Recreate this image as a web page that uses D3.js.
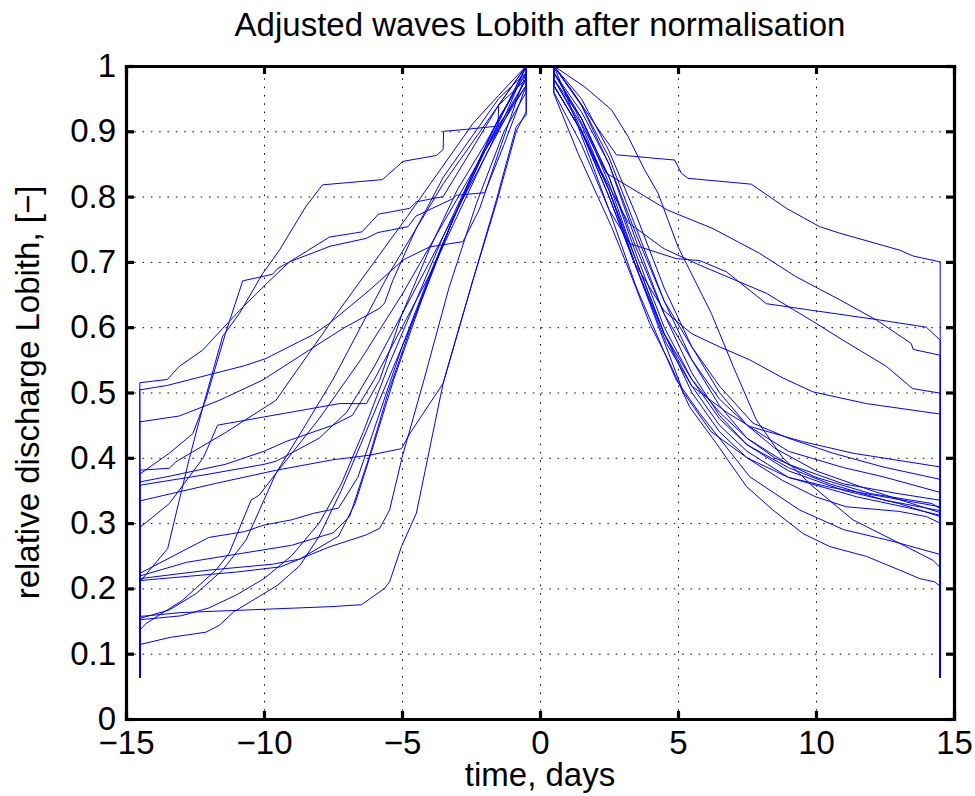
<!DOCTYPE html>
<html>
<head>
<meta charset="utf-8">
<script src="https://cdn.jsdelivr.net/npm/d3@7"></script>
<style>
  body { margin: 0; background: #fff; }
  text { font-family: "Liberation Sans", Arial, Helvetica, sans-serif; fill: #000; }
</style>
</head>
<body>
<div id="chart"></div>
<script>

// chart texts and ticks
var chartTitle = "Adjusted waves Lobith after normalisation"
var xLabel = "time, days"
var yLabel = "relative discharge Lobith, [\u2212]"
var xTicks = [-15, -10, -5, 0, 5, 10, 15]
var yTicks = [0, 0.1, 0.2, 0.3, 0.4, 0.5, 0.6, 0.7, 0.8, 0.9, 1]

// every wave starts and ends at the window edge with this low value
var edgeLevel = 0.063
// flat top of the normalised waves
var peakTop = [[-0.5, 1], [0.5, 1]]

// rising limbs [day, relative discharge]
var risingLimbs = [
  [[-14.5,.515],[-13.5,.52],[-13.07,.54],[-12.22,.565],[-11.5,.598],[-10.9,.625],[-9.9,.667],[-9.08,.70],[-7.6,.724],[-6.3,.736],[-5.87,.745],[-4.78,.754],[-4.5,.77],[-3.15,.797],[-3.03,.802],[-2.0,.806],[-1.3,.88],[-0.5,.97]],
  [[-14.5,.504],[-13.49,.511],[-10.71,.541],[-9.93,.552],[-8.72,.578],[-8.24,.588],[-7.63,.606],[-6.17,.657],[-4.96,.703],[-4.0,.723],[-2.79,.731],[-2.2,.78],[-1.4,.88],[-0.5,.99]],
  [[-14.5,.455],[-13.07,.464],[-11.62,.488],[-10.05,.519],[-8.36,.565],[-7.14,.598],[-5.81,.629],[-5.63,.637],[-5.33,.672],[-4.5,.75],[-3.5,.83],[-2.5,.89],[-1.5,.95],[-0.5,.99]],
  [[-14.5,.381],[-13.43,.384],[-13.19,.394],[-11.38,.439],[-9.57,.488],[-7.26,.627],[-4.8,.77],[-2.43,.912],[-1.5,.955],[-0.5,1]],
  [[-14.5,.375],[-13.43,.407],[-12.58,.437],[-12.1,.49],[-11.4,.59],[-10.77,.671],[-9.69,.681],[-9.5,.69],[-9.08,.70],[-7.63,.738],[-6.45,.746],[-5.94,.769],[-5.87,.773],[-4.72,.782],[-4.48,.792],[-3.51,.80],[-2.5,.87],[-1.5,.94],[-0.5,.98]],
  [[-14.5,.363],[-13.4,.372],[-11.4,.39],[-10,.41],[-9.2,.425],[-7.5,.45],[-6.8,.465],[-6.0,.52],[-5,.60],[-4,.68],[-3,.77],[-2,.86],[-1.2,.93],[-0.5,1]],
  [[-14.5,.358],[-12,.375],[-10,.39],[-9.55,.395],[-8.0,.43],[-7.0,.47],[-6.0,.54],[-5.0,.62],[-4.0,.70],[-3.0,.78],[-2.0,.86],[-1.0,.94],[-0.5,.98]],
  [[-14.5,.334],[-11.73,.361],[-9.55,.381],[-7.5,.397],[-6.17,.404],[-5.02,.414],[-4.72,.437],[-3.51,.514],[-2.43,.672],[-1.58,.79],[-0.86,.90],[-0.5,.93]],
  [[-14.5,.293],[-13.43,.33],[-12.2,.40],[-11.68,.45],[-7.27,.483],[-6.29,.483],[-5.8,.52],[-5.0,.62],[-4.0,.72],[-3.0,.81],[-2.0,.88],[-1.2,.94],[-0.5,1]],
  [[-14.5,.223],[-12,.278],[-10.7,.287],[-10,.297],[-9,.305],[-8.2,.315],[-7.3,.323],[-6.6,.37],[-5.8,.47],[-5,.57],[-4,.68],[-3,.78],[-2,.87],[-1.2,.94],[-0.5,1]],
  [[-14.5,.219],[-12.8,.24],[-9,.266],[-7.5,.285],[-6.9,.31],[-6.2,.40],[-5.5,.50],[-4.6,.61],[-3.6,.72],[-2.6,.82],[-1.6,.91],[-0.5,.99]],
  [[-14.5,.215],[-12,.228],[-9.7,.237],[-8.7,.245],[-7.3,.28],[-6.7,.33],[-6.1,.41],[-5.3,.52],[-4.3,.64],[-3.2,.76],[-2,.87],[-0.5,.97]],
  [[-14.5,.21],[-13.49,.261],[-12.7,.40],[-12.2,.48],[-11.5,.586],[-10.89,.621],[-10.05,.682],[-9.44,.718],[-8.48,.785],[-7.88,.818],[-5.71,.826],[-4.96,.854],[-3.75,.863],[-3.51,.872],[-3.49,.90],[-2.67,.903],[-1.52,.908],[-1.5,.94],[-0.5,1]],
  [[-14.5,.157],[-13,.163],[-10,.168],[-7.6,.172],[-6.47,.175],[-5.63,.20],[-5.45,.21],[-5.02,.264],[-4.48,.315],[-3.51,.514],[-2.43,.672],[-1.58,.795],[-0.86,.907],[-0.5,.925]],
  [[-14.5,.154],[-13.43,.167],[-12.46,.192],[-11.5,.228],[-10.65,.274],[-9.57,.376],[-8.5,.45],[-7.5,.52],[-6.5,.6],[-5.5,.68],[-4.5,.75],[-3.5,.82],[-2.5,.88],[-1.5,.94],[-0.5,1]],
  [[-14.5,.136],[-14.28,.146],[-12.95,.182],[-11.74,.228],[-11.26,.254],[-10.47,.335],[-10.17,.343],[-9.57,.376],[-8.0,.46],[-6.5,.55],[-5,.65],[-3.5,.76],[-2,.87],[-0.5,.98]],
  [[-14.5,.114],[-13.4,.125],[-12.1,.133],[-11.6,.144],[-11.1,.164],[-9.5,.205],[-8.7,.235],[-8.0,.28],[-7.2,.35],[-6.5,.42],[-5.5,.52],[-4.5,.62],[-3.5,.73],[-2.5,.83],[-1.5,.92],[-0.5,.99]],
  [[-14.5,.212],[-11,.225],[-9.4,.233],[-7.6,.264],[-6.29,.282],[-5.81,.292],[-5.45,.32],[-5.0,.40],[-4.2,.52],[-3.3,.66],[-2.3,.79],[-1.3,.9],[-0.5,.96]],
  [[-14.5,.152],[-13,.158],[-12,.17],[-11,.19],[-10,.215],[-9,.25],[-8,.30],[-7.2,.36],[-6.4,.44],[-5.5,.54],[-4.5,.64],[-3.5,.74],[-2.5,.83],[-1.5,.91],[-0.5,.97]]
]

// falling limbs [day, relative discharge]
var fallingLimbs = [
  [[0.5,1],[1.2,.96],[2.0,.91],[2.77,.864],[4.88,.856],[5.12,.836],[5.36,.828],[7.66,.819],[8.93,.782],[10.13,.754],[10.86,.744],[13.03,.718],[13.52,.709],[14.5,.70]],
  [[0.5,1],[1.0,.95],[1.8,.86],[2.5,.78],[3.25,.728],[4.94,.705],[5.79,.702],[6.75,.685],[8.2,.636],[10,.625],[12.31,.611],[14.0,.60],[14.5,.58]],
  [[0.5,.99],[1.3,.93],[2.4,.836],[4.64,.779],[6.27,.751],[7.96,.713],[9.29,.677],[10.86,.642],[12.19,.611],[13.45,.575],[13.52,.566],[14.5,.557]],
  [[0.5,.98],[1.3,.92],[2.2,.84],[3.2,.76],[4.5,.72],[5.79,.695],[8.2,.652],[10.0,.606],[10.98,.58],[12.55,.54],[13.5,.506],[14.5,.499]],
  [[0.5,.97],[1.5,.9],[2.5,.8],[3.4,.70],[4.5,.625],[5.5,.59],[6.5,.57],[7.6,.55],[8.81,.522],[9.89,.501],[11.83,.483],[14.5,.467]],
  [[0.5,1],[1.62,.968],[2.59,.933],[3.19,.892],[3.79,.841],[4.28,.805],[5.0,.723],[6.21,.621],[7.0,.54],[7.84,.458],[8.8,.40],[9.89,.356],[11.34,.305],[13.03,.269],[14.24,.243],[14.5,.232]],
  [[0.5,.97],[1.5,.9],[2.5,.81],[3.5,.69],[4.58,.575],[5.5,.51],[6.75,.47],[7.6,.448],[9.5,.425],[11.34,.407],[14.5,.386]],
  [[0.5,.99],[1.5,.93],[2.5,.85],[3.5,.74],[4.5,.64],[5.5,.57],[6.5,.51],[7.72,.453],[9,.43],[10.62,.407],[12.43,.386],[14.5,.367]],
  [[0.5,.98],[1.5,.92],[2.5,.83],[3.5,.72],[4.5,.62],[5.5,.55],[6.5,.49],[7.5,.45],[9,.41],[11,.385],[12.43,.371],[14.5,.347]],
  [[0.5,.97],[1.5,.9],[2.5,.8],[3.5,.69],[4.5,.59],[5.5,.52],[6.5,.47],[7.5,.43],[9,.39],[11,.36],[13,.345],[14.5,.335]],
  [[0.5,1],[1.5,.94],[2.5,.86],[3.5,.75],[4.5,.64],[5.5,.55],[6.5,.48],[7.5,.43],[8.5,.40],[10,.37],[12,.345],[14.2,.33],[14.5,.322]],
  [[0.5,.99],[1.5,.92],[2.5,.83],[3.5,.71],[4.5,.60],[5.5,.52],[6.5,.46],[7.5,.42],[9,.385],[10.5,.36],[12.5,.335],[14.5,.319]],
  [[0.5,1],[1.5,.95],[2.5,.87],[3.5,.77],[4.5,.66],[5.5,.57],[6.5,.50],[7.5,.45],[8.5,.415],[10,.38],[12,.35],[14.5,.316]],
  [[0.5,.97],[1.5,.9],[2.5,.81],[3.5,.7],[4.5,.59],[5.5,.51],[6.5,.45],[7.5,.41],[9,.37],[11.5,.34],[13.5,.322],[14.5,.312]],
  [[0.5,.99],[1.5,.92],[2.5,.82],[3.5,.70],[4.5,.59],[5.5,.50],[6.5,.44],[7.5,.40],[8.8,.365],[10,.34],[11.1,.325],[13,.318],[14,.31],[14.5,.30]],
  [[0.5,.96],[1.5,.88],[2.5,.78],[3.5,.66],[4.94,.519],[5.79,.468],[7.6,.371],[9.41,.32],[11,.29],[12.79,.272],[14.5,.252]],
  [[0.5,.958],[1.38,.866],[2.59,.754],[3.37,.672],[3.97,.606],[4.7,.545],[5.42,.478],[6.39,.422],[7.48,.356],[8.44,.32],[9.53,.284],[10.5,.264],[11.83,.249],[13.03,.228],[13.76,.215],[14.3,.21],[14.5,.203]],
  [[0.5,.98],[1.5,.91],[2.5,.81],[3.5,.69],[4.3,.6],[5.2,.5],[6.2,.44],[7.5,.40],[9,.37],[10.5,.355],[12.5,.34],[14.5,.325]],
  [[0.5,1],[1.5,.94],[2.5,.85],[3.5,.73],[4.5,.62],[5.5,.53],[6.5,.465],[7.5,.42],[9,.38],[11,.35],[13,.33],[14.5,.31]]
]

// define parameters of the plot
var margin = {top: 66, right: 21, bottom: 77, left: 126},
    width = 975 - margin.left - margin.right,
    height = 796 - margin.top - margin.bottom;

var fontSize = 33

// scales
var x = d3.scaleLinear().domain([-15, 15]).range([0, width])
var y = d3.scaleLinear().domain([0, 1]).range([height, 0])

var svg = d3.select("#chart").append("svg")
  .attr("width", 975)
  .attr("height", 796)

var g = svg.append("g")
  .attr("transform", "translate(" + margin.left + "," + margin.top + ")")

// dotted grid, inner ticks only
g.append("g")
  .attr("class", "grid")
  .attr("transform", "translate(0," + height + ")")
  .call(d3.axisBottom(x).tickValues(xTicks.slice(1, -1)).tickSize(-height).tickFormat(""))
g.append("g")
  .attr("class", "grid")
  .call(d3.axisLeft(y).tickValues(yTicks.slice(1, -1)).tickSize(-width).tickFormat(""))
g.selectAll(".grid .domain").remove()
g.selectAll(".grid line")
  .attr("stroke", "#000")
  .attr("stroke-width", 1)
  .attr("stroke-dasharray", "1.5,6.8")

// join rising limb, flat top and falling limb into one wave
var waves = risingLimbs.map(function(rise, i) {
  var fall = fallingLimbs[i]
  return [[rise[0][0], edgeLevel]]
    .concat(rise, peakTop, fall, [[fall[fall.length - 1][0], edgeLevel]])
})

var line = d3.line()
  .x(function(d) { return x(d[0]) })
  .y(function(d) { return y(d[1]) })

g.append("g")
  .selectAll("path")
  .data(waves)
  .enter().append("path")
  .attr("d", line)
  .attr("fill", "none")
  .attr("stroke", "#0000ff")
  .attr("stroke-width", 1)
  .attr("stroke-linejoin", "round")

// axes with inward ticks on all four sides
var tickLen = 8
var fmt = d3.format("~g")

g.append("g")
  .attr("class", "axis")
  .attr("transform", "translate(0," + height + ")")
  .call(d3.axisBottom(x).tickValues(xTicks).tickSizeInner(-tickLen).tickSizeOuter(0).tickPadding(12))
g.append("g")
  .attr("class", "axis")
  .call(d3.axisLeft(y).tickValues(yTicks).tickFormat(fmt).tickSizeInner(-tickLen).tickSizeOuter(0).tickPadding(10))
g.append("g")
  .attr("class", "axis")
  .call(d3.axisTop(x).tickValues(xTicks).tickFormat("").tickSizeInner(-tickLen).tickSizeOuter(0))
g.append("g")
  .attr("class", "axis")
  .attr("transform", "translate(" + width + ",0)")
  .call(d3.axisRight(y).tickValues(yTicks).tickFormat("").tickSizeInner(-tickLen).tickSizeOuter(0))

g.selectAll(".axis .domain").attr("stroke", "#000").attr("stroke-width", 3.2).attr("stroke-linecap", "square")
g.selectAll(".axis .tick line").attr("stroke", "#000").attr("stroke-width", 3.2)
g.selectAll(".axis text")
  .style("font-family", "'Liberation Sans', Arial, sans-serif")
  .style("font-size", fontSize + "px")
  .attr("fill", "#000")

// title and axis labels
svg.append("text")
  .attr("x", margin.left + width / 2)
  .attr("y", 36)
  .attr("text-anchor", "middle")
  .style("font-size", fontSize + "px")
  .text(chartTitle)

svg.append("text")
  .attr("x", margin.left + width / 2)
  .attr("y", 786)
  .attr("text-anchor", "middle")
  .style("font-size", fontSize + "px")
  .text(xLabel)

svg.append("text")
  .attr("transform", "translate(39," + (margin.top + height / 2) + ") rotate(-90)")
  .attr("text-anchor", "middle")
  .style("font-size", fontSize + "px")
  .text(yLabel)

</script>
</body>
</html>
